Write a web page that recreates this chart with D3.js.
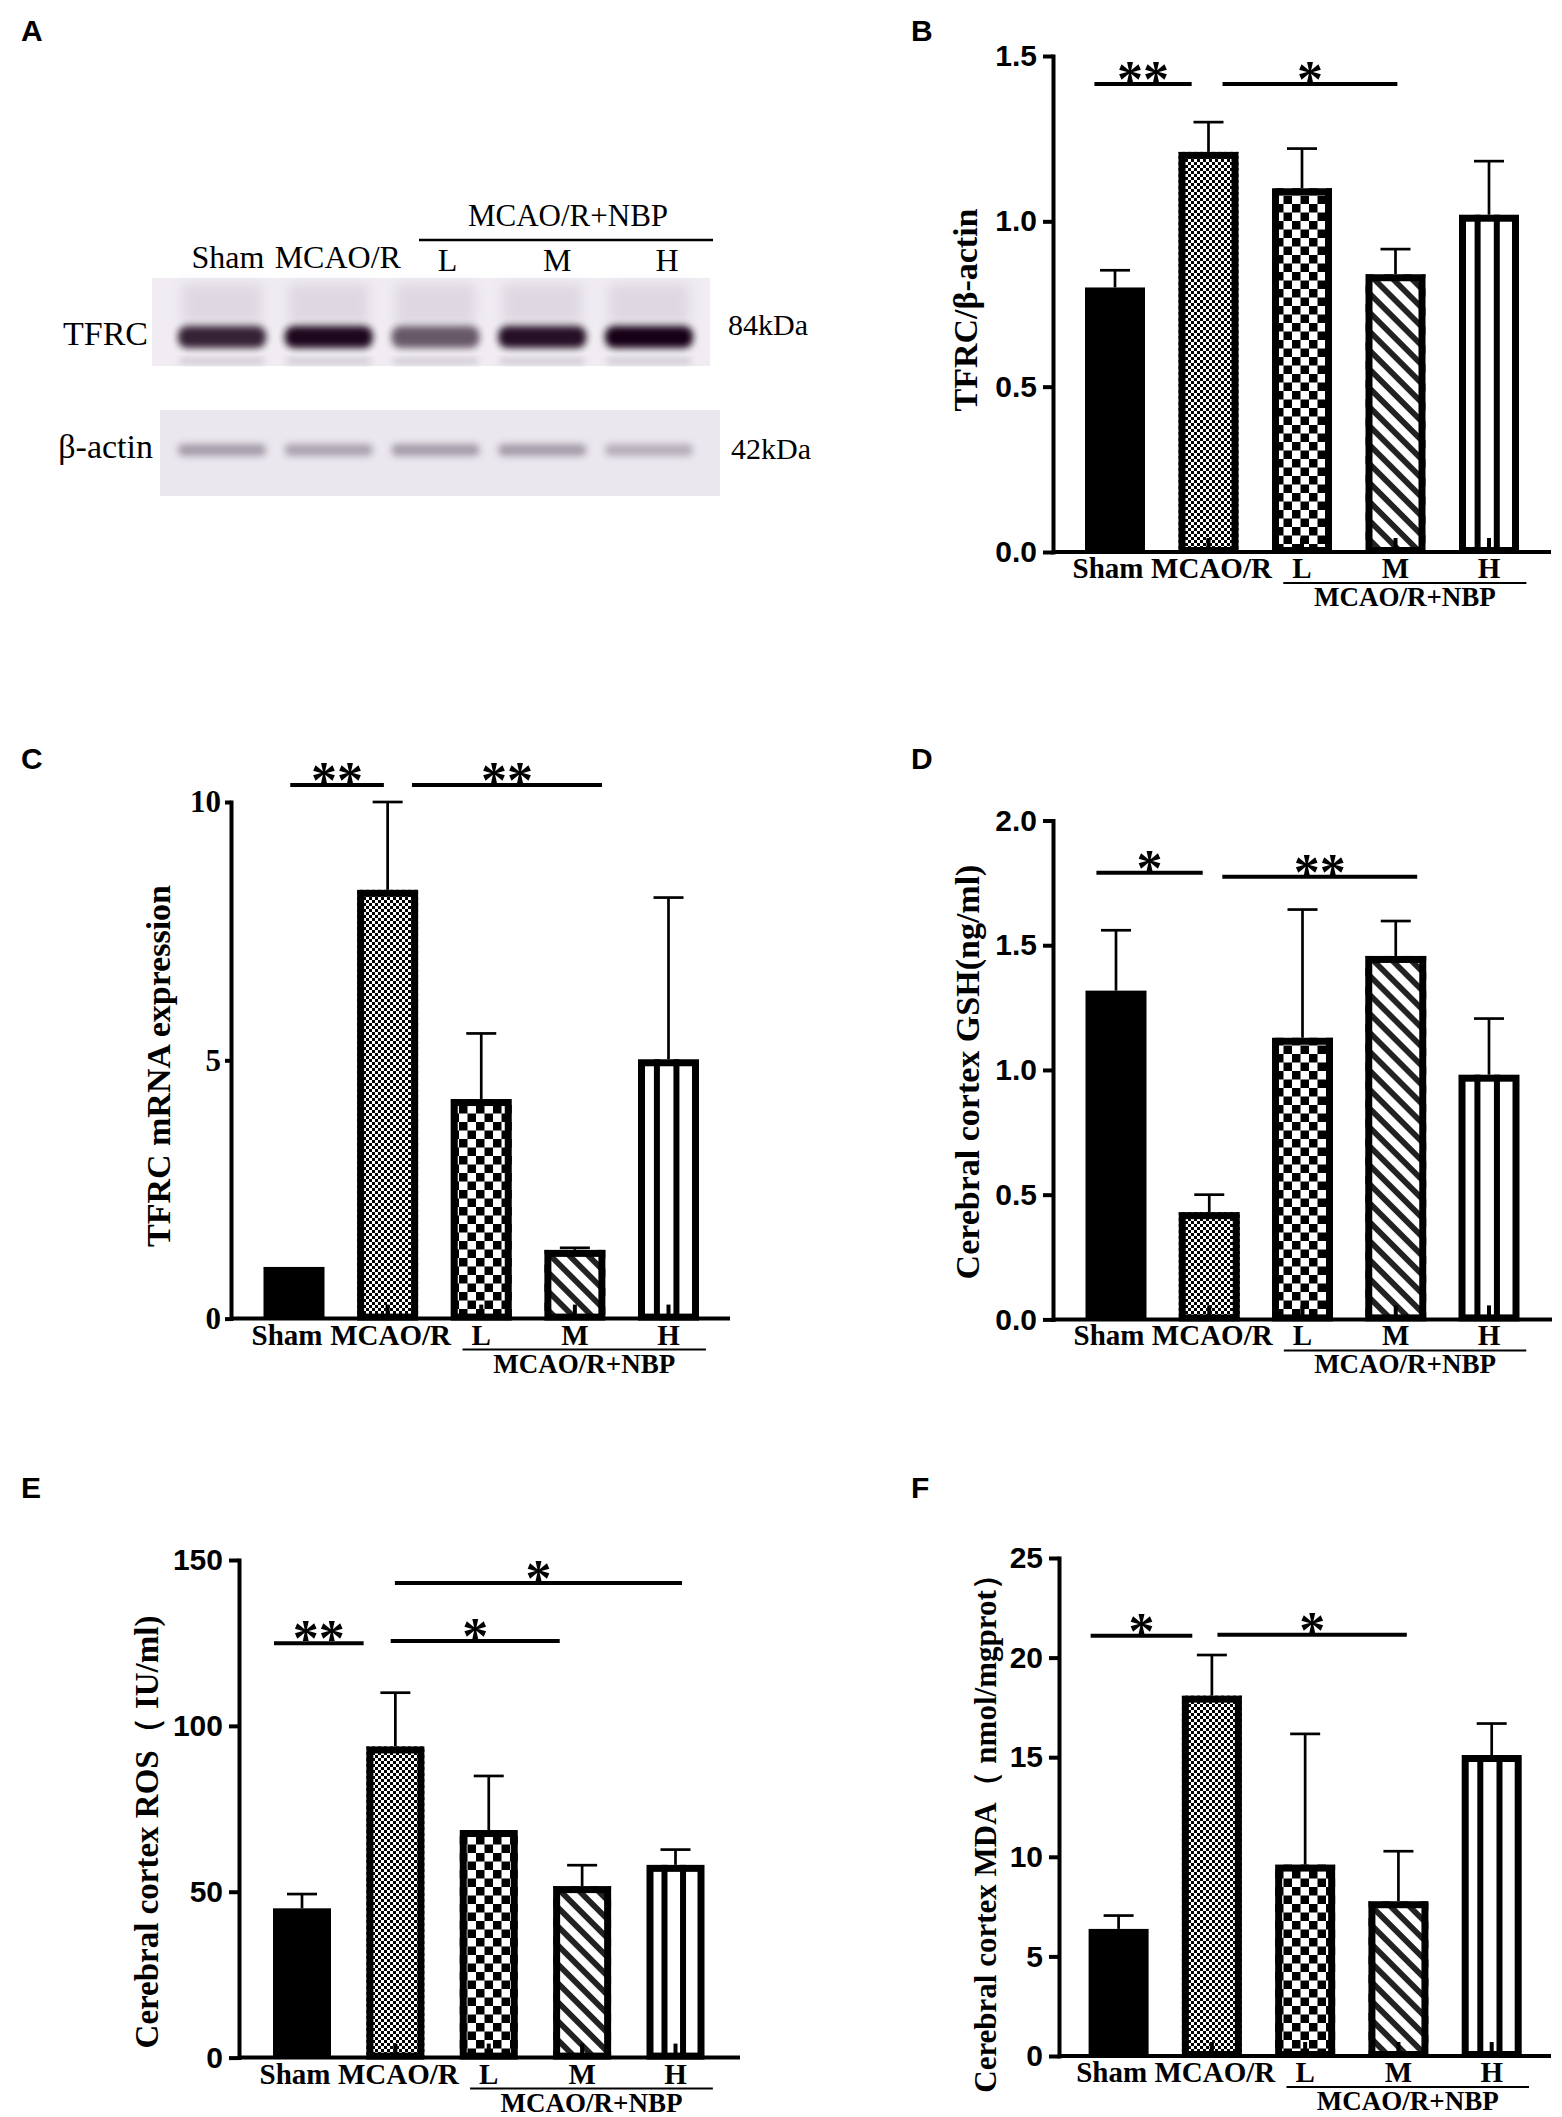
<!DOCTYPE html>
<html>
<head>
<meta charset="utf-8">
<script src="https://cdn.jsdelivr.net/npm/d3@7"></script>
<style>
  body { margin: 0; background: #fff; }
</style>
</head>
<body>
<div id="fig"></div>
<script>
// groups used on every bar chart and on the blot
var groups = ["Sham", "MCAO/R", "L", "M", "H"];

// A: western blot band strength (0-1)
var tfrcBand = [0.85, 0.97, 0.62, 0.93, 1.0];
var actinBand = [0.5, 0.46, 0.5, 0.5, 0.38];

// B: TFRC/beta-actin
var tfrcWbMean = [0.80, 1.21, 1.10, 0.84, 1.02];
var tfrcWbErr = [0.052, 0.09, 0.12, 0.076, 0.162];
var tfrcWbTicks = [0, 0.5, 1.0, 1.5];
var tfrcWbSig = [{a: -0.22, b: 0.82, y: 1.415, t: "**"}, {a: 1.15, b: 3.02, y: 1.415, t: "*"}];

// C: TFRC mRNA expression
var tfrcMrnaMean = [1.0, 8.3, 4.25, 1.33, 5.02];
var tfrcMrnaErr = [0, 1.7, 1.27, 0.04, 3.13];
var tfrcMrnaTicks = [0, 5, 10];
var tfrcMrnaSig = [{a: -0.04, b: 0.96, y: 10.33, t: "**"}, {a: 1.26, b: 3.29, y: 10.33, t: "**"}];

// D: GSH
var gshMean = [1.318, 0.43, 1.129, 1.457, 0.981];
var gshErr = [0.242, 0.07, 0.514, 0.14, 0.225];
var gshTicks = [0, 0.5, 1.0, 1.5, 2.0];
var gshSig = [{a: -0.21, b: 0.93, y: 1.791, t: "*"}, {a: 1.14, b: 3.23, y: 1.775, t: "**"}];

// E: ROS
var rosMean = [45.0, 93.8, 68.6, 51.7, 58.1];
var rosErr = [4.3, 16.2, 16.3, 6.3, 4.6];
var rosTicks = [0, 50, 100, 150];
var rosSig = [{a: -0.30, b: 0.66, y: 124.9, t: "**"}, {a: 0.95, b: 2.76, y: 125.6, t: "*"},
              {a: 0.995, b: 4.07, y: 143.1, t: "*"}];

// F: MDA
var mdaMean = [6.38, 18.09, 9.61, 7.77, 15.11];
var mdaErr = [0.67, 2.04, 6.56, 2.51, 1.58];
var mdaTicks = [0, 5, 10, 15, 20, 25];
var mdaSig = [{a: -0.30, b: 0.79, y: 21.1, t: "*"}, {a: 1.06, b: 3.09, y: 21.15, t: "*"}];

var serif = "'Liberation Serif', 'Times New Roman', serif";
var sans = "'Liberation Sans', Arial, sans-serif";

var svg = d3.select("#fig").append("svg")
    .attr("width", 1562)
    .attr("height", 2117)
    .style("background", "#fff");

// patterns for the bars
var defs = svg.append("defs");

var fine = defs.append("pattern").attr("id", "fineCheck")
    .attr("patternUnits", "userSpaceOnUse").attr("width", 6).attr("height", 6);
fine.append("rect").attr("width", 6).attr("height", 6).attr("fill", "#fff");
fine.append("rect").attr("width", 3).attr("height", 3).attr("fill", "#000");
fine.append("rect").attr("x", 3).attr("y", 3).attr("width", 3).attr("height", 3).attr("fill", "#000");

var coarse = defs.append("pattern").attr("id", "coarseCheck")
    .attr("patternUnits", "userSpaceOnUse").attr("width", 17).attr("height", 17);
coarse.append("rect").attr("width", 17).attr("height", 17).attr("fill", "#fff");
coarse.append("rect").attr("width", 8.5).attr("height", 8.5).attr("fill", "#000");
coarse.append("rect").attr("x", 8.5).attr("y", 8.5).attr("width", 8.5).attr("height", 8.5).attr("fill", "#000");

var diag = defs.append("pattern").attr("id", "diag")
    .attr("patternUnits", "userSpaceOnUse").attr("width", 13.4).attr("height", 13.4)
    .attr("patternTransform", "rotate(45)");
diag.append("rect").attr("width", 13.4).attr("height", 13.4).attr("fill", "#fff");
diag.append("rect").attr("width", 13.4).attr("height", 5.8).attr("fill", "#222");

defs.append("filter").attr("id", "blur3").attr("x", "-20%").attr("y", "-80%").attr("width", "140%").attr("height", "260%")
    .append("feGaussianBlur").attr("stdDeviation", 3.5);
defs.append("filter").attr("id", "blur6").attr("x", "-30%").attr("y", "-60%").attr("width", "160%").attr("height", "220%")
    .append("feGaussianBlur").attr("stdDeviation", 6);

var barFills = ["#000", "url(#fineCheck)", "url(#coarseCheck)", "url(#diag)", "#fff"];
// small nudges of the first two group labels, they nearly touch in the original
var labelNudge = [-7, 3, 0, 0, 0];

function panelLetter(t, x, y) {
    svg.append("text")
        .attr("x", x).attr("y", y)
        .attr("font-family", sans).attr("font-weight", "bold").attr("font-size", 30)
        .text(t);
}

// ---------- A: western blot ----------
function drawBlot() {
    panelLetter("A", 21, 41);
    var g = svg.append("g");
    var lane = d3.scalePoint().domain(groups).range([222, 649]);
    var labelX = d3.scalePoint().domain(groups).range([228, 667]);

    g.append("text").attr("x", 568).attr("y", 226)
        .attr("text-anchor", "middle").attr("font-family", serif).attr("font-size", 31)
        .text("MCAO/R+NBP");
    g.append("line").attr("x1", 419).attr("x2", 713).attr("y1", 240).attr("y2", 240)
        .attr("stroke", "#000").attr("stroke-width", 2.5);

    g.selectAll(".lanelab").data(groups).enter().append("text")
        .attr("x", d => labelX(d)).attr("y", (d, i) => i < 2 ? 268 : 271)
        .attr("text-anchor", "middle").attr("font-family", serif).attr("font-size", 32)
        .text(d => d);

    // TFRC blot
    g.append("rect").attr("x", 152).attr("y", 278).attr("width", 558).attr("height", 88).attr("fill", "#f0ecf2");
    g.selectAll(".smear").data(groups).enter().append("rect")
        .attr("x", d => lane(d) - 40).attr("y", 284).attr("width", 80).attr("height", 40)
        .attr("fill", "#cfc5d4").attr("opacity", 0.5).attr("filter", "url(#blur6)");
    g.selectAll(".tband").data(tfrcBand).enter().append("rect")
        .attr("x", (d, i) => lane(groups[i]) - 44).attr("y", 326)
        .attr("width", 88).attr("height", 22).attr("rx", 9)
        .attr("fill", "#120612").attr("opacity", d => d).attr("filter", "url(#blur3)");
    g.selectAll(".tlow").data(groups).enter().append("rect")
        .attr("x", d => lane(d) - 42).attr("y", 359).attr("width", 84).attr("height", 4)
        .attr("fill", "#8d8092").attr("opacity", 0.5).attr("filter", "url(#blur3)");

    // beta-actin blot
    g.append("rect").attr("x", 160).attr("y", 410).attr("width", 560).attr("height", 86).attr("fill", "#ebe7ee");
    g.selectAll(".aband").data(actinBand).enter().append("rect")
        .attr("x", (d, i) => lane(groups[i]) - 44).attr("y", 444)
        .attr("width", 88).attr("height", 12).attr("rx", 5)
        .attr("fill", "#5e5266").attr("opacity", d => d).attr("filter", "url(#blur3)");

    g.append("text").attr("x", 148).attr("y", 345).attr("text-anchor", "end")
        .attr("font-family", serif).attr("font-size", 34).text("TFRC");
    g.append("text").attr("x", 153).attr("y", 458).attr("text-anchor", "end")
        .attr("font-family", serif).attr("font-size", 34).text("β-actin");
    g.append("text").attr("x", 728).attr("y", 335)
        .attr("font-family", serif).attr("font-size", 30).text("84kDa");
    g.append("text").attr("x", 731).attr("y", 459)
        .attr("font-family", serif).attr("font-size", 30).text("42kDa");
}

// ---------- B-F: bar charts ----------
function drawPanel(p) {
    panelLetter(p.id, p.letter[0], p.letter[1]);
    var g = svg.append("g");

    var y = d3.scaleLinear().domain([0, d3.max(p.ticks)]).range([p.yBottom, p.yTop]);
    var x = d3.scalePoint().domain(groups).range([p.c0, p.c4]);
    var xi = d3.scaleLinear().domain([0, groups.length - 1]).range([p.c0, p.c4]);
    var bw = p.barW;

    var rows = groups.map((d, i) => ({g: d, v: p.mean[i], e: p.err[i], i: i}));

    // bars
    var bar = g.selectAll(".bar").data(rows).enter().append("g");
    bar.append("rect")
        .attr("x", d => x(d.g) - bw / 2)
        .attr("y", d => y(d.v))
        .attr("width", bw)
        .attr("height", d => p.yBottom - y(d.v))
        .attr("fill", d => barFills[d.i]);
    bar.filter(d => d.i > 0).append("rect")
        .attr("x", d => x(d.g) - bw / 2 + 3.5)
        .attr("y", d => y(d.v) + 3.5)
        .attr("width", bw - 7)
        .attr("height", d => p.yBottom - y(d.v) - 5)
        .attr("fill", "none").attr("stroke", "#000").attr("stroke-width", 7);
    // vertical stripes of the H bar
    bar.filter(d => d.i === 4).selectAll(".vs").data(d => [0.31, 0.63].map(f => ({d: d, f: f})))
        .enter().append("rect")
        .attr("x", o => x(o.d.g) - bw / 2 + bw * o.f - 3)
        .attr("y", o => y(o.d.v))
        .attr("width", 6)
        .attr("height", o => p.yBottom - y(o.d.v))
        .attr("fill", "#000");
    // little stub at the foot of the bars
    bar.filter(d => d.i > 0).append("rect")
        .attr("x", d => x(d.g) - 2).attr("y", p.yBottom - 14)
        .attr("width", 4).attr("height", 14).attr("fill", "#000");

    // error bars (upper only)
    var eb = g.selectAll(".err").data(rows.filter(d => d.e > 0)).enter().append("g");
    eb.append("line")
        .attr("x1", d => x(d.g)).attr("x2", d => x(d.g))
        .attr("y1", d => y(d.v)).attr("y2", d => y(d.v + d.e))
        .attr("stroke", "#000").attr("stroke-width", 2.7);
    eb.append("line")
        .attr("x1", d => x(d.g) - 15).attr("x2", d => x(d.g) + 15)
        .attr("y1", d => y(d.v + d.e)).attr("y2", d => y(d.v + d.e))
        .attr("stroke", "#000").attr("stroke-width", 2.7);

    // axes
    var yAxis = g.append("g")
        .attr("transform", `translate(${p.x0},0)`)
        .call(d3.axisLeft(y).tickValues(p.ticks).tickFormat(d3.format(p.fmt))
            .tickSize(p.tickLen).tickSizeOuter(0).tickPadding(p.tickPad));
    yAxis.select(".domain").attr("stroke-width", 4).attr("stroke-linecap", "square");
    yAxis.selectAll(".tick line").attr("stroke-width", 4);
    yAxis.selectAll(".tick text")
        .attr("font-family", p.tickFont).attr("font-weight", "bold")
        .attr("font-size", p.tickSize).attr("fill", "#000");
    g.append("line")
        .attr("x1", p.x0).attr("x2", p.xEnd)
        .attr("y1", p.yBottom).attr("y2", p.yBottom)
        .attr("stroke", "#000").attr("stroke-width", 4);

    // y title
    g.append("text")
        .attr("transform", `translate(${p.titleX},${p.titleY}) rotate(-90)`)
        .attr("text-anchor", "middle").attr("dy", "0.35em")
        .attr("font-family", serif).attr("font-weight", "bold").attr("font-size", p.titleSize)
        .text(p.title);

    // group labels
    g.selectAll(".xlab").data(groups).enter().append("text")
        .attr("x", (d, i) => x(d) + labelNudge[i]).attr("y", p.yBottom + 26)
        .attr("text-anchor", "middle")
        .attr("font-family", serif).attr("font-weight", "bold").attr("font-size", 29)
        .text(d => d);
    g.append("line")
        .attr("x1", xi(1.8)).attr("x2", xi(4.4))
        .attr("y1", p.yBottom + 31).attr("y2", p.yBottom + 31)
        .attr("stroke", "#000").attr("stroke-width", 2);
    g.append("text")
        .attr("x", (xi(1.8) + xi(4.4)) / 2).attr("y", p.yBottom + 54)
        .attr("text-anchor", "middle")
        .attr("font-family", serif).attr("font-weight", "bold").attr("font-size", 27)
        .text("MCAO/R+NBP");

    // significance
    var sg = g.selectAll(".sig").data(p.sig).enter().append("g");
    sg.append("line")
        .attr("x1", d => xi(d.a)).attr("x2", d => xi(d.b))
        .attr("y1", d => y(d.y)).attr("y2", d => y(d.y))
        .attr("stroke", "#000").attr("stroke-width", 4);
    sg.append("text")
        .attr("x", d => (xi(d.a) + xi(d.b)) / 2)
        .attr("y", d => y(d.y) + 13)
        .attr("text-anchor", "middle")
        .attr("font-family", serif).attr("font-weight", "bold").attr("font-size", 52)
        .text(d => d.t);
}

drawBlot();

drawPanel({id: "B", letter: [911, 41], x0: 1053, yBottom: 552, yTop: 56, c0: 1115, c4: 1489, xEnd: 1551,
    barW: 60, titleX: 965, titleY: 310, titleSize: 34, tickFont: sans, tickSize: 30, tickLen: 10, tickPad: 6,
    fmt: ".1f", mean: tfrcWbMean, err: tfrcWbErr, ticks: tfrcWbTicks, sig: tfrcWbSig, title: "TFRC/β-actin"});

drawPanel({id: "C", letter: [21, 769], x0: 231, yBottom: 1318.6, yTop: 802, c0: 294, c4: 668.5, xEnd: 730,
    barW: 61, titleX: 158, titleY: 1066, titleSize: 34, tickFont: serif, tickSize: 31, tickLen: 6, tickPad: 4,
    fmt: "d", mean: tfrcMrnaMean, err: tfrcMrnaErr, ticks: tfrcMrnaTicks, sig: tfrcMrnaSig,
    title: "TFRC mRNA expression"});

drawPanel({id: "D", letter: [911, 769], x0: 1053, yBottom: 1319.4, yTop: 820.5, c0: 1116, c4: 1489, xEnd: 1552,
    barW: 61, titleX: 967, titleY: 1072, titleSize: 34, tickFont: sans, tickSize: 30, tickLen: 10, tickPad: 6,
    fmt: ".1f", mean: gshMean, err: gshErr, ticks: gshTicks, sig: gshSig, title: "Cerebral cortex GSH(ng/ml)"});

drawPanel({id: "E", letter: [21, 1498], x0: 239, yBottom: 2057.6, yTop: 1560, c0: 302, c4: 675.5, xEnd: 740,
    barW: 58, titleX: 146, titleY: 1832, titleSize: 33, tickFont: sans, tickSize: 30, tickLen: 10, tickPad: 6,
    fmt: "d", mean: rosMean, err: rosErr, ticks: rosTicks, sig: rosSig, title: "Cerebral cortex ROS（ IU/ml)"});

drawPanel({id: "F", letter: [911, 1498], x0: 1059, yBottom: 2056, yTop: 1558, c0: 1118.6, c4: 1491.7, xEnd: 1551,
    barW: 60, titleX: 985, titleY: 1826, titleSize: 31, tickFont: sans, tickSize: 30, tickLen: 10, tickPad: 6,
    fmt: "d", mean: mdaMean, err: mdaErr, ticks: mdaTicks, sig: mdaSig,
    title: "Cerebral cortex MDA（ nmol/mgprot）"});
</script>
</body>
</html>
